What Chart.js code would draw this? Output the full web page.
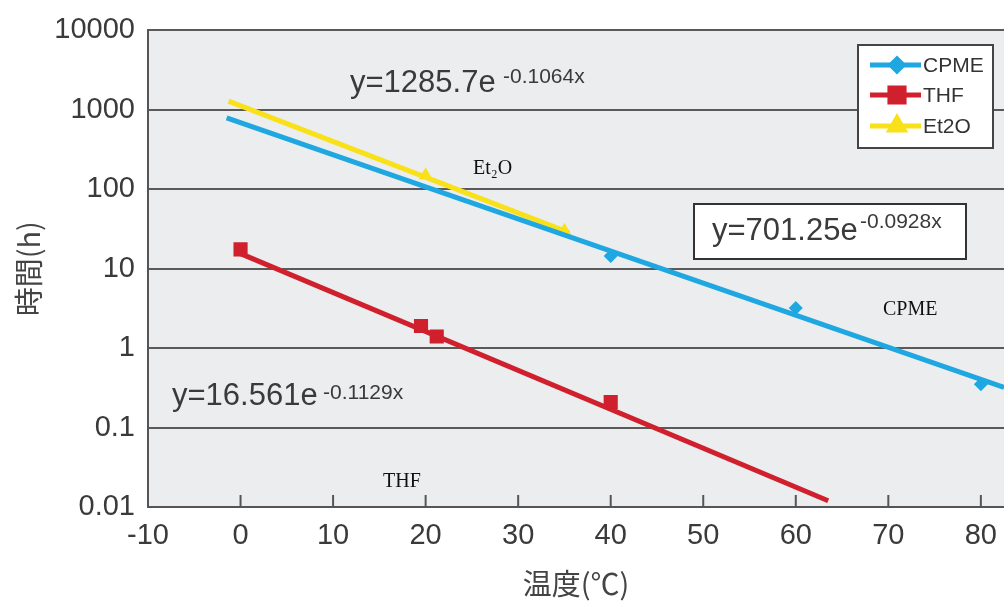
<!DOCTYPE html>
<html lang="ja">
<head>
<meta charset="UTF-8">
<title>温度と時間</title>
<style>
    * { margin: 0; padding: 0; box-sizing: border-box; }
    body { background: #ffffff; width: 1004px; height: 603px; overflow: hidden; }
    #wrap { position: relative; width: 1004px; height: 603px; overflow: hidden; }
    #grafico { display: block; }
</style>
<script src="https://cdn.jsdelivr.net/npm/chart.js"></script>
</head>
<body>
<div id="wrap"><canvas id="grafico" width="1014" height="603"></canvas></div>
<script>
    const cpmeTemp = [40, 60, 80];
    const cpmeTime = [14.5, 3.2, 0.35];
    const thfTemp = [0, 19.5, 21.2, 40];
    const thfTime = [17.5, 1.9, 1.4, 0.21];
    const et2oTemp = [20, 35];
    const et2oTime = [150, 30];

    // extremos de las rectas de ajuste
    const cpmeFitTemp = [-1.5, 82.5];
    const cpmeFitTime = [790, 0.32];
    const thfFitTemp = [0, 63.5];
    const thfFitTime = [15.5, 0.012];
    const et2oFitTemp = [-1.3, 35.5];
    const et2oFitTime = [1290, 28.5];

    const yTicks = [0.01, 0.1, 1, 10, 100, 1000, 10000];
    const legendLabels = ['CPME', 'THF', 'Et2O'];

    const azul = '#1ea7e1';
    const rojo = '#d01f2d';
    const amarillo = '#f9e11a';

    const pts = (xs, ys) => xs.map((x, i) => ({ x: x, y: ys[i] }));

    const fondo = {
        id: 'fondo',
        beforeDraw(chart) {
            const { ctx, chartArea: a } = chart;
            ctx.save();
            ctx.fillStyle = '#ebedee';
            ctx.fillRect(a.left, a.top, a.right - a.left, a.bottom - a.top);
            ctx.restore();
        }
    };

    const marcas = {
        id: 'marcas',
        afterDraw(chart) {
            const { ctx, chartArea: a } = chart;
            const sx = chart.scales.x;
            const ds = chart.data.datasets;
            ctx.save();

            // ticks hacia dentro en el eje x
            ctx.strokeStyle = '#555';
            ctx.lineWidth = 2;
            sx.ticks.forEach(t => {
                const px = sx.getPixelForValue(t.value);
                ctx.beginPath();
                ctx.moveTo(px, a.bottom);
                ctx.lineTo(px, a.bottom - 12);
                ctx.stroke();
            });

            // leyenda
            ctx.fillStyle = '#ffffff';
            ctx.fillRect(858, 45, 135, 103);
            ctx.strokeStyle = '#444';
            ctx.lineWidth = 2;
            ctx.strokeRect(858, 45, 135, 103);
            const fits = [ds[1], ds[0], ds[2]];
            const marks = [ds[3], ds[4], ds[5]];
            const rows = [65, 95, 126];
            ctx.font = '21px "Liberation Sans Narrow", "Liberation Sans", sans-serif';
            ctx.textBaseline = 'middle';
            rows.forEach((y, i) => {
                ctx.strokeStyle = fits[i].borderColor;
                ctx.lineWidth = 5;
                ctx.beginPath();
                ctx.moveTo(870, y);
                ctx.lineTo(921, y);
                ctx.stroke();
                ctx.fillStyle = marks[i].backgroundColor;
                ctx.strokeStyle = marks[i].backgroundColor;
                Chart.helpers.drawPoint(ctx, {
                    pointStyle: marks[i].pointStyle,
                    radius: i === 0 ? 6 : marks[i].pointRadius,
                    rotation: 0,
                    borderWidth: 1
                }, 897, y);
                ctx.fillStyle = '#333';
                ctx.fillText(legendLabels[i], 923, y + 1);
            });

            // ecuaciones
            ctx.fillStyle = '#ffffff';
            ctx.fillRect(694, 204, 272, 55);
            ctx.strokeStyle = '#333';
            ctx.lineWidth = 2;
            ctx.strokeRect(694, 204, 272, 55);

            ctx.fillStyle = '#3a3a3a';
            ctx.textBaseline = 'alphabetic';
            const eqs = [
                ['y=1285.7e', 350, 92, '-0.1064x', 503, 83],
                ['y=701.25e', 712, 240, '-0.0928x', 860, 228],
                ['y=16.561e', 172, 405, '-0.1129x', 323, 399]
            ];
            eqs.forEach(e => {
                ctx.font = '31px "Liberation Sans", Arial, sans-serif';
                ctx.fillText(e[0], e[1], e[2]);
                ctx.font = '21px "Liberation Sans", Arial, sans-serif';
                ctx.fillText(e[3], e[4], e[5]);
            });

            // etiquetas
            ctx.fillStyle = '#111';
            ctx.font = '20px "Liberation Serif", "DejaVu Serif", serif';
            ctx.fillText('Et\u2082O', 473, 174);
            ctx.fillText('CPME', 883, 315);
            ctx.fillText('THF', 383, 487);
            ctx.restore();
        }
    };

    const ctx = document.getElementById('grafico').getContext('2d');
    const grafico = new Chart(ctx, {
        type: 'scatter',
        data: {
            datasets: [
                { data: pts(thfFitTemp, thfFitTime), showLine: true, borderColor: rojo, borderWidth: 5, pointRadius: 0, order: 0 },
                { data: pts(cpmeFitTemp, cpmeFitTime), showLine: true, borderColor: azul, borderWidth: 5, pointRadius: 0, order: 1 },
                { data: pts(et2oFitTemp, et2oFitTime), showLine: true, borderColor: amarillo, borderWidth: 5, pointRadius: 0, order: 2 },
                { data: pts(cpmeTemp, cpmeTime), pointStyle: 'rectRot', pointRadius: 7, backgroundColor: azul, borderColor: azul, borderWidth: 0, order: 3 },
                { data: pts(thfTemp, thfTime), pointStyle: 'rect', pointRadius: 10, backgroundColor: rojo, borderColor: rojo, borderWidth: 0, order: 4 },
                { data: pts(et2oTemp, et2oTime), pointStyle: 'triangle', pointRadius: 8, backgroundColor: amarillo, borderColor: amarillo, borderWidth: 0, order: 5 }
            ]
        },
        options: {
            responsive: false,
            animation: false,
            layout: { padding: { top: 29, right: 0, left: 0, bottom: 0 } },
            plugins: {
                legend: { display: false },
                tooltip: { enabled: false }
            },
            scales: {
                x: {
                    type: 'linear',
                    min: -10,
                    max: 82.5,
                    afterFit(scale) {
                        scale.height = 96;
                        scale.paddingLeft = 0;
                        scale.paddingRight = 0;
                    },
                    grid: { display: false, drawTicks: false },
                    border: { display: true, color: '#555', width: 2 },
                    ticks: {
                        stepSize: 10,
                        includeBounds: false,
                        padding: 12,
                        color: '#3a3a3a',
                        font: { family: '"Liberation Sans", Arial, sans-serif', size: 29 }
                    },
                    title: {
                        display: true,
                        text: '温度(℃)',
                        color: '#444',
                        font: { family: '"Noto Sans CJK JP", sans-serif', size: 29 },
                        padding: { top: 0, bottom: 2 }
                    }
                },
                y: {
                    type: 'logarithmic',
                    min: 0.01,
                    max: 10000,
                    afterFit(scale) { scale.width = 148; },
                    afterBuildTicks(scale) { scale.ticks = yTicks.map(v => ({ value: v })); },
                    grid: { color: '#5a5a5a', lineWidth: 2, drawTicks: false },
                    border: { display: true, color: '#555', width: 2 },
                    ticks: {
                        padding: 13,
                        color: '#3a3a3a',
                        font: { family: '"Liberation Sans", Arial, sans-serif', size: 29 },
                        callback: v => String(v)
                    },
                    title: {
                        display: true,
                        text: '時間(h)',
                        color: '#444',
                        font: { family: '"Noto Sans CJK JP", sans-serif', size: 29 },
                        padding: { top: 12, bottom: 0 }
                    }
                }
            }
        },
        plugins: [fondo, marcas]
    });
</script>
</body>
</html>
